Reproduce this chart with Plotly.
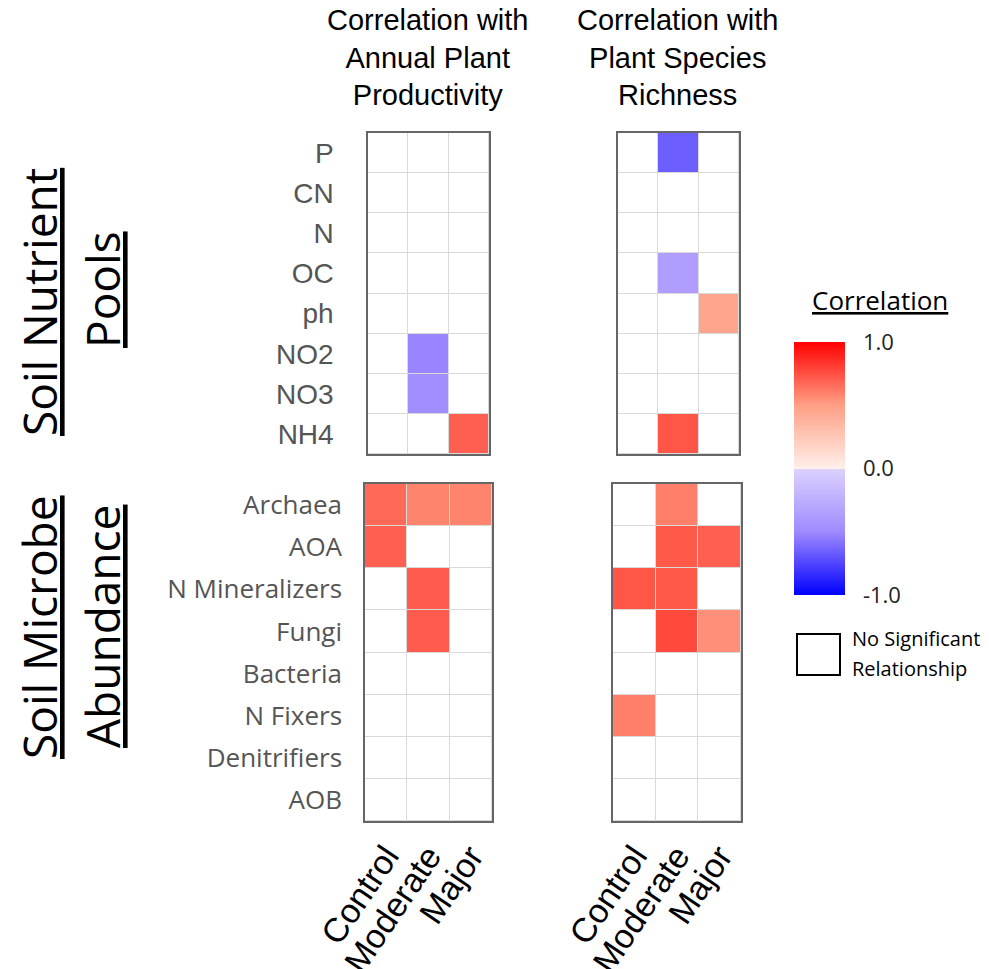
import plotly.graph_objects as go

# ---------------- data ----------------
treatments = ["Control", "Moderate", "Major"]
nutrients = ["P", "CN", "N", "OC", "ph", "NO2", "NO3", "NH4"]
microbes = ["Archaea", "AOA", "N Mineralizers", "Fungi", "Bacteria",
            "N Fixers", "Denitrifiers", "AOB"]

# None = no significant relationship
prod_nutrients = [
    [None, None, None],
    [None, None, None],
    [None, None, None],
    [None, None, None],
    [None, None, None],
    [None, -0.52, None],
    [None, -0.48, None],
    [None, None, 0.70],
]
rich_nutrients = [
    [None, -0.66, None],
    [None, None, None],
    [None, None, None],
    [None, -0.37, None],
    [None, None, 0.46],
    [None, None, None],
    [None, None, None],
    [None, 0.73, None],
]
prod_microbes = [
    [0.67, 0.585, 0.585],
    [0.70, None, None],
    [None, 0.71, None],
    [None, 0.71, None],
    [None, None, None],
    [None, None, None],
    [None, None, None],
    [None, None, None],
]
rich_microbes = [
    [None, 0.60, None],
    [None, 0.72, 0.70],
    [0.73, 0.72, None],
    [None, 0.77, 0.55],
    [None, None, None],
    [0.60, None, None],
    [None, None, None],
    [None, None, None],
]

W, H = 989, 969
def fx(px): return px / W
def fy(py): return 1 - py / H

colorscale = [
    [0.0, "#0000ff"], [0.25, "#a08aff"], [0.5, "#ddd2ff"],
    [0.5, "#fff0ea"], [0.75, "#ff9f85"], [1.0, "#ff0000"],
]

fig = go.Figure()

panels = [
    ("x", "y", nutrients, prod_nutrients),
    ("x2", "y2", nutrients, rich_nutrients),
    ("x3", "y3", microbes, prod_microbes),
    ("x4", "y4", microbes, rich_microbes),
]
for xa, ya, rows, z in panels:
    # white base so that empty cells are white with grey grid gaps
    fig.add_trace(go.Heatmap(
        x=treatments, y=rows, z=[[0] * len(treatments) for _ in rows],
        colorscale=[[0, "white"], [1, "white"]], showscale=False,
        xgap=1, ygap=1, hoverinfo="skip", xaxis=xa, yaxis=ya))
    fig.add_trace(go.Heatmap(
        x=treatments, y=rows, z=z, coloraxis="coloraxis",
        xgap=1, ygap=1, xaxis=xa, yaxis=ya,
        hovertemplate="%{y} / %{x}: %{z:.2f}<extra></extra>"))

top_y = [fy(454), fy(133)]
bot_y = [fy(821), fy(484)]
doms = {
    "": ([fx(368), fx(489)], top_y),
    "2": ([fx(618), fx(739)], top_y),
    "3": ([fx(365), fx(492)], bot_y),
    "4": ([fx(613), fx(741)], bot_y),
}

layout = dict(
    width=W, height=H, margin=dict(l=0, r=0, t=0, b=0, autoexpand=False),
    paper_bgcolor="white", plot_bgcolor="#d9d9d9",
    showlegend=False,
)
for k, (xd, yd) in doms.items():
    is_bottom = k in ("3", "4")
    is_left = k in ("", "3")
    rows = microbes if is_bottom else nutrients
    layout["xaxis" + k] = dict(
        domain=xd, anchor="y" + k, type="category", automargin=False,
        categoryorder="array", categoryarray=treatments,
        tickmode="array", tickvals=treatments, ticktext=treatments,
        showline=True, mirror=True, linecolor="#666666", linewidth=1.5,
        showgrid=False, zeroline=False, ticks="",
        showticklabels=is_bottom, tickangle=-56, ticklabelstandoff=0,
        tickfont=dict(family="Liberation Sans, Arial, sans-serif", size=34, color="black"),
    )
    layout["yaxis" + k] = dict(
        domain=yd, anchor="x" + k, type="category", automargin=False,
        categoryorder="array", categoryarray=rows, autorange="reversed",
        tickmode="array", tickvals=rows, ticktext=rows,
        showline=True, mirror=True, linecolor="#666666", linewidth=1.5,
        showgrid=False, zeroline=False, ticks="",
        showticklabels=is_left,
        ticklabelstandoff=(16 if is_bottom else 27),
        tickfont=(dict(family="Open Sans, Noto Sans, sans-serif", size=26, color="#555555")
                  if is_bottom else
                  dict(family="Liberation Sans, Arial, sans-serif", size=28, color="#555555")),
    )

layout["coloraxis"] = dict(
    cmin=-1, cmax=1, colorscale=colorscale,
    colorbar=dict(
        x=fx(794), xanchor="left", xpad=0,
        y=fy(468.5), yanchor="middle", ypad=0,
        len=253, lenmode="pixels", thickness=51, thicknessmode="pixels",
        outlinewidth=0,
        tickvals=[-1, 0, 1], ticktext=["-1.0", "0.0", "1.0"],
        ticks="outside", ticklen=14, tickcolor="rgba(0,0,0,0)",
        tickfont=dict(family="Open Sans, Noto Sans, sans-serif", size=22, color="#222222"),
    ),
)

title_font = dict(family="Liberation Sans, Arial, sans-serif", size=29, color="black")
group_font = dict(family="Open Sans, Noto Sans, sans-serif", size=46, color="black")
annotations = [
    dict(text="Correlation with<br>Annual Plant<br>Productivity", x=fx(427), y=fy(57),
         font=title_font),
    dict(text="Correlation with<br>Plant Species<br>Richness", x=fx(677), y=fy(57),
         font=title_font),
    dict(text="<u>Soil Nutrient</u>", x=fx(39), y=fy(302), textangle=-90, font=group_font),
    dict(text="<u>Pools</u>", x=fx(102), y=fy(290), textangle=-90, font=group_font),
    dict(text="<u>Soil Microbe</u>", x=fx(39), y=fy(627), textangle=-90, font=group_font),
    dict(text="<u>Abundance</u>", x=fx(102), y=fy(627), textangle=-90, font=group_font),
    dict(text="<u>Correlation</u>", x=fx(880), y=fy(300),
         font=dict(family="Open Sans, Noto Sans, sans-serif", size=26, color="black")),
    dict(text="No Significant", x=fx(850), y=fy(638), xanchor="left",
         font=dict(family="Open Sans, Noto Sans, sans-serif", size=20, color="black")),
    dict(text="Relationship", x=fx(850), y=fy(668), xanchor="left",
         font=dict(family="Open Sans, Noto Sans, sans-serif", size=20, color="black")),
]
for a in annotations:
    a.update(xref="paper", yref="paper", showarrow=False)
    a.setdefault("xanchor", "center")
    a.setdefault("yanchor", "middle")
layout["annotations"] = annotations
layout["shapes"] = [dict(type="rect", xref="paper", yref="paper",
                         x0=fx(797), x1=fx(840), y0=fy(675), y1=fy(634),
                         line=dict(color="black", width=2), fillcolor="white")]

fig.update_layout(**layout)
fig.write_html("out.html")
